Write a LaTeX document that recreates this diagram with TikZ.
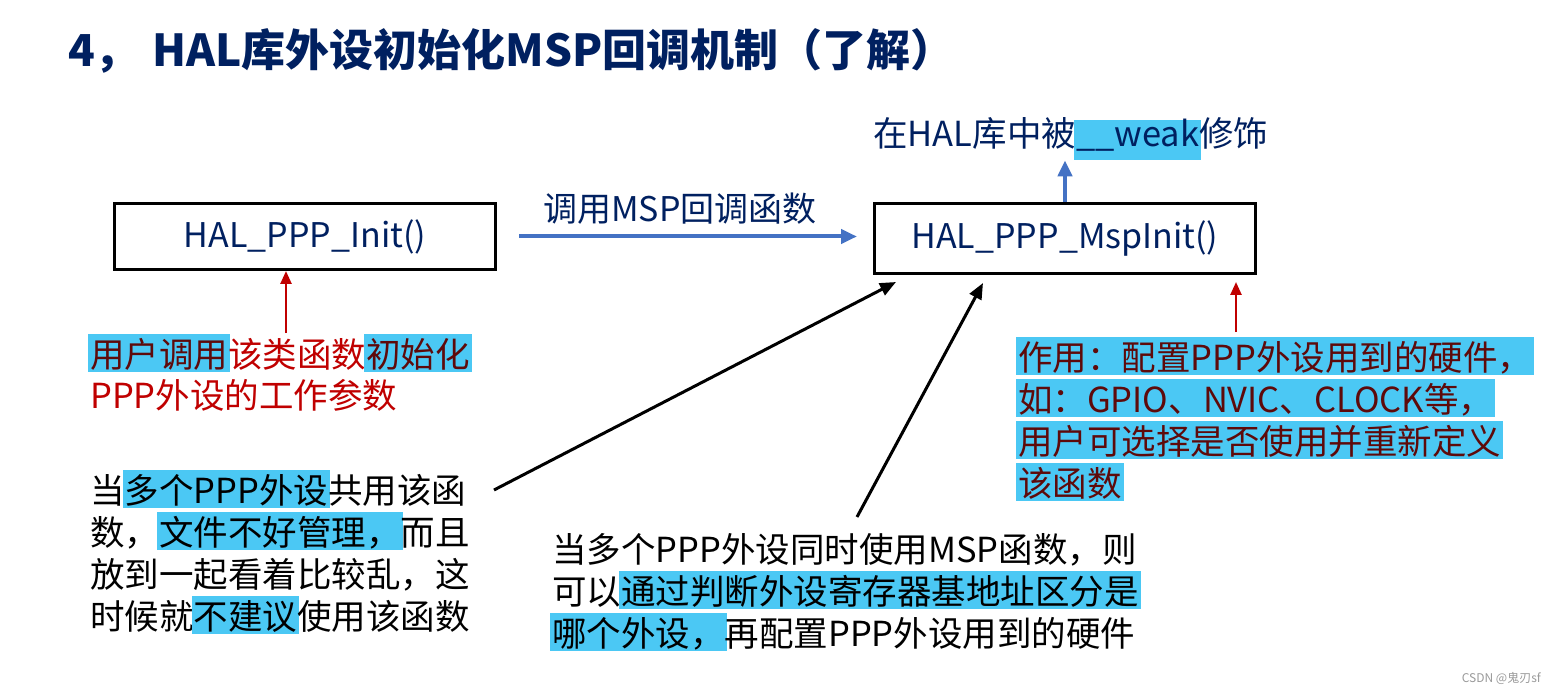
\documentclass[tikz,border=0pt]{standalone}
\usepackage{fontspec}
\setmainfont{Noto Sans CJK SC}
\usetikzlibrary{arrows.meta,calc}
\definecolor{navy}{HTML}{002060}
\definecolor{arrowblue}{HTML}{4472C4}
\definecolor{pptred}{HTML}{C00000}
\definecolor{hlc}{HTML}{4BC8F4}
\definecolor{darkred}{HTML}{5E0A0A}
\definecolor{wmgray}{HTML}{9A9A9A}
\newcommand\hl[1]{\kern-2pt{\setlength{\fboxsep}{0pt}\colorbox{hlc}{\rule[-0.15em]{0pt}{1.1em}\kern2pt#1\kern2pt}}\kern-2pt}
\newcommand\hlr[1]{\hl{\color{darkred}#1}}
\newcommand\hlw[1]{\kern-2pt{\setlength{\fboxsep}{0pt}\colorbox{hlc}{\rule[-0.38em]{0pt}{1.1em}\kern2pt#1\kern2pt}}\kern-2pt}
\begin{document}
\begin{tikzpicture}[x=1pt,y=-1pt,
  titletext/.style={anchor=base west, inner sep=0, font=\fontsize{44}{50}\selectfont\bfseries, text=navy},
  box/.style={draw=black, line width=3pt, inner sep=0, font=\fontsize{34}{40}\selectfont, text=navy},
  body/.style={anchor=base west, inner sep=0, font=\fontsize{34.5}{42}\selectfont},
  barrow/.style={draw=arrowblue, line width=4pt, -{Triangle[length=16pt,width=14pt]}},
  rarrow/.style={draw=pptred, line width=2.5pt, -{Triangle[length=13pt,width=11pt]}},
  karrow/.style={draw=black, line width=3pt, -{Triangle[length=16pt,width=13pt]}}]
\useasboundingbox (0,0) rectangle (1551,695);
\fill[white] (0,0) rectangle (1551,695);

\node[titletext] (t1) at (68,67) {4，};
\node[titletext] (t2) at (152,67) {HAL库外设初始化MSP回调机制（了解）};

\node[box, minimum width=381pt, minimum height=66pt] (init) at (305,236.5) {HAL\_PPP\_Init()};
\node[box, minimum width=381pt, minimum height=70pt] (msp) at (1065,238.5) {HAL\_PPP\_MspInit()};

\node[body, font=\fontsize{34}{40}\selectfont, text=navy] (call) at (543,222) {调用MSP回调函数};
\draw[barrow] ([xshift=22pt]init.east) -- ($(init.east -| msp.west)+(-16,0)$);

\node[body, font=\fontsize{34.5}{40}\selectfont, text=navy] (weak) at (873,147) {在HAL库中被\hlw{\_\_weak}修饰};
\draw[barrow] (msp.north) -- (msp.north |- weak.south);

\coordinate (r1) at (286,333);
\draw[rarrow] (r1) -- (r1 |- init.south);
\coordinate (r2) at (1236,332);
\draw[rarrow] (r2) -- ($(r2 |- msp.south)+(0,7)$);

\node[body, text=pptred] (l1) at (90,367) {\hlr{用户调用}该类函数\hlr{初始化}};
\node[body, text=pptred] (l2) at (90,408) {PPP外设的工作参数};

\node[body, text=darkred] (rt1) at (1018,370) {\hl{作用：配置PPP外设用到的硬件，}};
\node[body, text=darkred] (rt2) at (1018,412) {\hl{如：GPIO、NVIC、CLOCK等，}};
\node[body, text=darkred] (rt3) at (1018,454) {\hl{用户可选择是否使用并重新定义}};
\node[body, text=darkred] (rt4) at (1018,496) {\hl{该函数}};

\node[body, text=black] (bl1) at (90,503) {当\hl{多个PPP外设}共用该函};
\node[body, text=black] (bl2) at (90,545) {数，\hl{文件不好管理，}而且};
\node[body, text=black] (bl3) at (90,587) {放到一起看着比较乱，这};
\node[body, text=black] (bl4) at (90,629) {时候就\hl{不建议}使用该函数};

\node[body, text=black] (bm1) at (552,562) {当多个PPP外设同时使用MSP函数，则};
\node[body, text=black] (bm2) at (552,604) {可以\hl{通过判断外设寄存器基地址区分是}};
\node[body, text=black] (bm3) at (552,646) {\hl{哪个外设，}再配置PPP外设用到的硬件};

\coordinate (k1s) at (494,490);
\coordinate (k1e) at (896,282);
\draw[karrow] (k1s) -- (k1e);
\coordinate (k2s) at (857,517);
\coordinate (k2e) at (983,283);
\draw[karrow] (k2s) -- (k2e);

\node[anchor=base east, inner sep=0, font=\fontsize{12}{14}\selectfont, text=wmgray] (wm) at (1541,682) {CSDN @鬼刃sf};
\end{tikzpicture}
\end{document}
